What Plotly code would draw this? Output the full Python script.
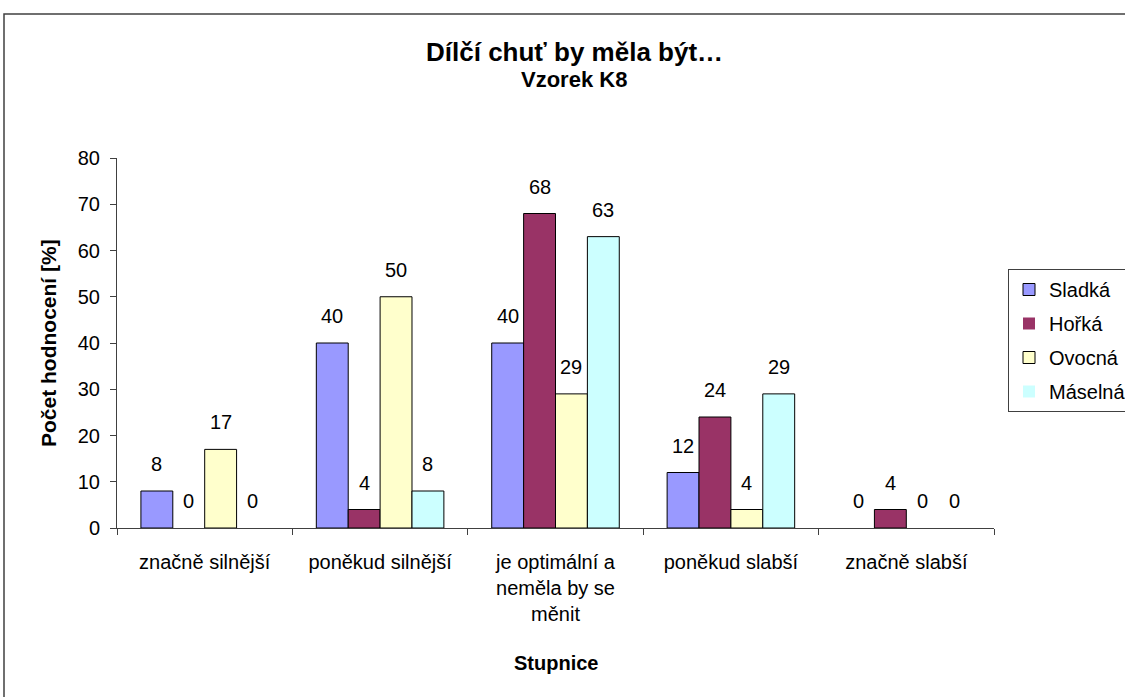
import plotly.graph_objects as go

# Rating scale (categories) and the labels shown under the axis
categories = ["značně silnější", "poněkud silnější", "je optimální a neměla by se měnit",
              "poněkud slabší", "značně slabší"]
tick_labels = ["značně silnější", "poněkud silnější", "je optimální a<br>neměla by se<br>měnit",
               "poněkud slabší", "značně slabší"]

# Share of ratings [%] per taste
series_names = ["Sladká", "Hořká", "Ovocná", "Máselná"]
sladka = [8, 40, 40, 12, 0]
horka = [0, 4, 68, 24, 4]
ovocna = [17, 50, 29, 4, 0]
maselna = [0, 8, 63, 29, 0]

y_ticks = [0, 10, 20, 30, 40, 50, 60, 70, 80]

series_values = [sladka, horka, ovocna, maselna]
colors = ["#9999FF", "#993366", "#FFFFCC", "#CCFFFF"]

FONT = "Liberation Sans, Arial, sans-serif"
W, H = 1125, 697
ML, MR, MT, MB = 117, 131, 158, 169
plot_w = W - ML - MR
plot_h = H - MT - MB
BARGAP = 1.5 / 5.5
bar_px = plot_w / len(categories) * (1 - BARGAP) / len(series_names)


def px_x(px):
    return (px - ML) / plot_w


def px_y(py):
    return (H - MB - py) / plot_h


fig = go.Figure()
for i, (name, vals, col) in enumerate(zip(series_names, series_values, colors)):
    fig.add_trace(go.Bar(
        x=categories, y=vals, name=name, legendgroup=name,
        marker=dict(color=col,
                    # empty bars get no outline
                    line=dict(color="black", width=[1 if v else 0 for v in vals])),
    ))
    # value labels above each bar
    for cat, v in zip(categories, vals):
        fig.add_annotation(
            x=cat, y=v, xref="x", yref="y", text=str(v), showarrow=False,
            xanchor="center", yanchor="middle",
            xshift=(i - (len(series_names) - 1) / 2) * bar_px, yshift=27,
            font=dict(family=FONT, size=20, color="black"),
        )

# chart titles
fig.add_annotation(x=px_x(574), y=px_y(52), xref="paper", yref="paper",
                   xanchor="center", yanchor="middle",
                   text="<b>Dílčí chuť by měla být…</b>", showarrow=False,
                   font=dict(family=FONT, size=26, color="black"))
fig.add_annotation(x=px_x(574), y=px_y(80), xref="paper", yref="paper",
                   xanchor="center", yanchor="middle",
                   text="<b>Vzorek K8</b>", showarrow=False,
                   font=dict(family=FONT, size=22, color="black"))
# axis titles
fig.add_annotation(x=px_x(48), y=0.5, xref="paper", yref="paper",
                   xanchor="center", yanchor="middle",
                   text="<b>Počet hodnocení [%]</b>", textangle=-90, showarrow=False,
                   font=dict(family=FONT, size=21, color="black"))
fig.add_annotation(x=0.5, y=px_y(663), xref="paper", yref="paper",
                   xanchor="center", yanchor="middle",
                   text="<b>Stupnice</b>", showarrow=False,
                   font=dict(family=FONT, size=20, color="black"))

# chart area frame
fig.add_shape(type="rect", xref="paper", yref="paper",
              x0=px_x(4), y0=px_y(705), x1=px_x(1135), y1=px_y(14),
              line=dict(color="#404040", width=1.5), fillcolor="rgba(0,0,0,0)", layer="below")

fig.update_layout(
    width=W, height=H,
    margin=dict(l=ML, r=MR, t=MT, b=MB, autoexpand=False),
    paper_bgcolor="white", plot_bgcolor="white",
    barmode="group", bargap=BARGAP, bargroupgap=0,
    font=dict(family=FONT, size=19, color="black"),
    showlegend=True,
    legend=dict(
        x=px_x(1008), y=px_y(269), xanchor="left", yanchor="top",
        bgcolor="white", bordercolor="#404040", borderwidth=1,
        font=dict(family=FONT, size=20, color="black"),
        tracegroupgap=5, itemwidth=30,
    ),
    xaxis=dict(
        tickmode="array", tickvals=categories, ticktext=tick_labels,
        tickson="boundaries", ticks="outside", ticklen=6, tickcolor="#404040",
        showline=True, linecolor="#404040", linewidth=1,
        showgrid=False, zeroline=False, ticklabelstandoff=16,
        tickfont=dict(family=FONT, size=20, color="black"),
    ),
    yaxis=dict(
        range=[0, 80], tickmode="array", tickvals=y_ticks,
        ticks="outside", ticklen=6, tickcolor="#404040",
        showline=True, linecolor="#404040", linewidth=1,
        showgrid=False, zeroline=False, ticklabelstandoff=6,
        tickfont=dict(family=FONT, size=20, color="black"),
    ),
)

fig.write_html("out.html")
